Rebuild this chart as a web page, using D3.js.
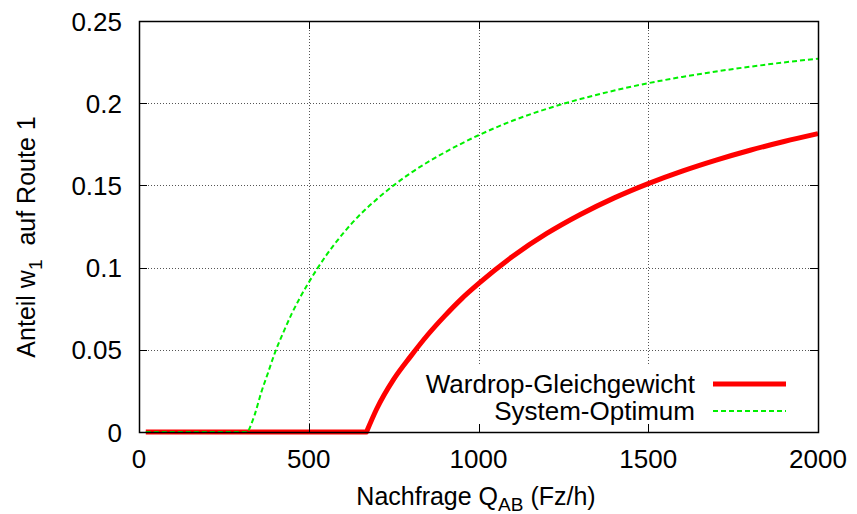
<!DOCTYPE html>
<html>
<head>
<meta charset="utf-8">
<script src="https://cdn.jsdelivr.net/npm/d3@7"></script>
<style>
  body { margin: 0; background: #fff; }
  svg { display: block; font-family: "Liberation Sans", Arial, sans-serif; }
</style>
</head>
<body>
<svg id="chart" width="857" height="514"></svg>
<script>
// ---- data ----
const xTicks = [0, 500, 1000, 1500, 2000];
const yTicks = [0, 0.05, 0.1, 0.15, 0.2, 0.25];
const yTickLabels = ["0", "0.05", "0.1", "0.15", "0.2", "0.25"];
const seriesNames = ["Wardrop-Gleichgewicht", "System-Optimum"];

const qWardrop = [20, 670, 700, 750, 800, 850, 900, 950, 1000, 1100, 1200, 1300, 1400, 1500, 1600, 1700, 1800, 1900, 2000];
const wWardrop = [0, 0, 0.014, 0.032, 0.046, 0.059, 0.0705, 0.081, 0.0902, 0.1067, 0.1206, 0.1323, 0.1424, 0.1511, 0.1587, 0.1654, 0.1714, 0.1767, 0.1815];

const qSystem = [20, 321, 340, 360, 380, 400, 425, 450, 475, 500, 550, 600, 650, 700, 750, 800, 900, 1000, 1100, 1200, 1300, 1400, 1500, 1600, 1700, 1800, 1900, 2000];
const wSystem = [0, 0, 0.010, 0.024, 0.036, 0.048, 0.0605, 0.072, 0.082, 0.091, 0.107, 0.1205, 0.132, 0.1415, 0.150, 0.1575, 0.170, 0.1805, 0.1893, 0.1965, 0.2025, 0.2077, 0.2122, 0.216, 0.2193, 0.2222, 0.2248, 0.2271];

// ---- layout ----
const svg = d3.select("#chart");
const L = 139, R = 818, T = 21, B = 432;
const x = d3.scaleLinear().domain([0, 2000]).range([L, R]);
const y = d3.scaleLinear().domain([0, 0.25]).range([B, T]);
const FS = 26;

// grid
const grid = svg.append("g").attr("stroke", "#555").attr("stroke-width", 1).attr("stroke-dasharray", "1,2");
grid.selectAll("line.gx").data(xTicks.slice(1, -1)).join("line")
  .attr("x1", d => Math.round(x(d)) + 0.5).attr("x2", d => Math.round(x(d)) + 0.5)
  .attr("y1", T).attr("y2", B);
grid.selectAll("line.gy").data(yTicks.slice(1, -1)).join("line")
  .attr("y1", d => Math.round(y(d)) + 0.5).attr("y2", d => Math.round(y(d)) + 0.5)
  .attr("x1", L).attr("x2", R);

// legend opaque box (covers grid)
svg.append("rect").attr("x", 405).attr("y", 366).attr("width", 395).attr("height", 59).attr("fill", "#fff");

// lines: flat part (linear) + rising part (smooth), joined in one path
const lin = d3.line().x(d => x(d[0])).y(d => y(d[1]));
const smooth = d3.line().x(d => x(d[0])).y(d => y(d[1])).curve(d3.curveMonotoneX);
function pathFor(qs, ws) {
  const pts = d3.zip(qs, ws);
  const k = ws.findIndex((w, i) => i > 0 && w > 0) - 1; // last zero point
  const flat = lin(pts.slice(0, k + 1));
  const rise = smooth(pts.slice(k)).replace(/^M/, "L");
  return flat + rise;
}
svg.append("path").attr("d", pathFor(qWardrop, wWardrop))
  .attr("fill", "none").attr("stroke", "#ff0000").attr("stroke-width", 5).attr("stroke-linejoin", "round");
svg.append("path").attr("d", pathFor(qSystem, wSystem))
  .attr("fill", "none").attr("stroke", "#00f000").attr("stroke-width", 2).attr("stroke-dasharray", "5,3");

// axes (ticks inward, mirrored)
const tickLen = 8;
const axG = svg.append("g").attr("stroke", "#000").attr("stroke-width", 1);
xTicks.forEach(t => {
  const xx = Math.round(x(t)) + 0.5;
  axG.append("line").attr("x1", xx).attr("x2", xx).attr("y1", B).attr("y2", B - tickLen);
  axG.append("line").attr("x1", xx).attr("x2", xx).attr("y1", T).attr("y2", T + tickLen);
});
yTicks.forEach(t => {
  const yy = Math.round(y(t)) + 0.5;
  axG.append("line").attr("x1", L).attr("x2", L + tickLen).attr("y1", yy).attr("y2", yy);
  axG.append("line").attr("x1", R).attr("x2", R - tickLen).attr("y1", yy).attr("y2", yy);
});
svg.append("rect").attr("x", L + 0.5).attr("y", T + 0.5).attr("width", R - L).attr("height", B - T)
  .attr("fill", "none").attr("stroke", "#000").attr("stroke-width", 1.5);

// tick labels
svg.append("g").selectAll("text").data(xTicks).join("text")
  .attr("x", d => x(d)).attr("y", 468).attr("text-anchor", "middle")
  .attr("font-size", FS).text(d => d);
svg.append("g").selectAll("text").data(yTicks).join("text")
  .attr("x", 122).attr("y", d => y(d) + 9.5).attr("text-anchor", "end")
  .attr("font-size", FS).text((d, i) => yTickLabels[i]);

// axis titles
const xt = svg.append("text").attr("x", 476).attr("y", 505).attr("text-anchor", "middle").attr("font-size", 25);
xt.append("tspan").text("Nachfrage Q");
xt.append("tspan").attr("font-size", 19).attr("dy", 6).text("AB");
xt.append("tspan").attr("dy", -6).text(" (Fz/h)");

const yt = svg.append("text").attr("transform", "translate(35,237) rotate(-90)")
  .attr("text-anchor", "middle").attr("font-size", 25);
yt.append("tspan").text("Anteil w");
yt.append("tspan").attr("font-size", 19).attr("dy", 7).text("1");
yt.append("tspan").attr("dy", -7).text("\u00a0 auf Route 1");

// legend
const legY = [384, 411];
const legColors = ["#ff0000", "#00f000"];
seriesNames.forEach((n, i) => {
  svg.append("text").attr("x", 695).attr("y", legY[i] + 9).attr("text-anchor", "end")
    .attr("font-size", FS).text(n);
});
svg.append("line").attr("x1", 713).attr("x2", 786).attr("y1", legY[0]).attr("y2", legY[0])
  .attr("stroke", legColors[0]).attr("stroke-width", 5);
svg.append("line").attr("x1", 713).attr("x2", 786).attr("y1", legY[1]).attr("y2", legY[1])
  .attr("stroke", legColors[1]).attr("stroke-width", 2).attr("stroke-dasharray", "5,3");
</script>
</body>
</html>
